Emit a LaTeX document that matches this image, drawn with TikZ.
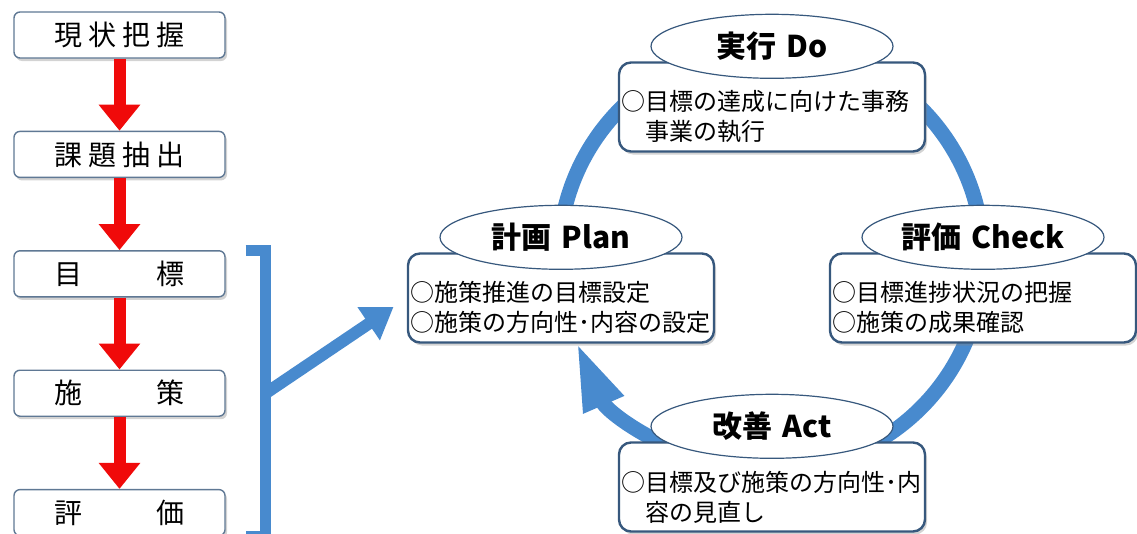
\documentclass[tikz,border=0pt]{standalone}
\usepackage{fontspec}
\setmainfont{Noto Sans CJK JP}
\usetikzlibrary{positioning,arrows.meta,shapes.geometric,shadows}
\definecolor{flowline}{RGB}{95,120,148}
\definecolor{boxline}{RGB}{55,88,125}
\definecolor{cycblue}{RGB}{72,138,206}
\definecolor{arrowred}{RGB}{240,10,10}

\begin{document}
\begin{tikzpicture}[
  x=1pt, y=-1pt,
  font=\fontsize{24pt}{30pt}\selectfont,
  node distance=72pt,
  flowbox/.style={draw=flowline, line width=1.4pt, rounded corners=6pt, fill=white,
                  minimum width=211pt, minimum height=46pt, inner sep=0pt,
                  font=\fontsize{28pt}{30pt}\selectfont,
                  drop shadow={shadow xshift=2pt, shadow yshift=-3pt, opacity=0.35}},
  flowarrow/.style={draw=arrowred, line width=12pt, -{Triangle[width=40pt,length=26pt]}},
  cycbox/.style={draw=boxline, line width=2.4pt, rounded corners=12pt, fill=white,
                 minimum height=89pt, text width=302pt, align=left, inner xsep=2pt, inner ysep=3pt,
                 execute at begin node=\rule{0pt}{40pt},
                 drop shadow={shadow xshift=2pt, shadow yshift=-3pt, opacity=0.35}},
  cyctitle/.style={ellipse, draw=boxline, line width=1.2pt, fill=white,
                   minimum width=242pt, minimum height=64pt, inner sep=0pt,
                   font=\fontsize{30pt}{32pt}\selectfont\bfseries},
  cycline/.style={draw=cycblue, line width=15pt},
  bracket/.style={draw=cycblue, line width=11pt},
  brkarrow/.style={draw=cycblue, line width=12pt, shorten >=16pt,
                   -{Triangle[width=38pt,length=30pt]}}
]
\useasboundingbox (0,0) rectangle (1137,533);

\node[flowbox] (grasp) at (119.5,35) {現\hspace{6pt}状\hspace{6pt}把\hspace{6pt}握};
\node[flowbox, below=of grasp] (issue) {課\hspace{6pt}題\hspace{6pt}抽\hspace{6pt}出};
\node[flowbox, below=of issue] (goal) {目\hspace{74pt}標};
\node[flowbox, below=of goal] (policy) {施\hspace{74pt}策};
\node[flowbox, below=of policy] (eval) {評\hspace{74pt}価};

\draw[flowarrow] (grasp) -- (issue);
\draw[flowarrow] (issue) -- (goal);
\draw[flowarrow] (goal) -- (policy);
\draw[flowarrow] (policy) -- (eval);

\draw[bracket] ([xshift=20pt]goal.north east) -| ([xshift=40pt]eval.south east) -- ([xshift=20pt]eval.south east);
\coordinate (brk) at ([xshift=40pt]policy.east);

\coordinate (cyc) at (771,258);
\draw[cycline, -{Triangle[width=40pt,length=68pt]}] ([shift={(185:212)}]cyc) arc[start angle=185, end angle=516.5, radius=212];

\node[cycbox] (do) at (772,107) {○目標の達成に向けた事務\\　事業の執行};
\node[cycbox] (check) at (983,298) {○目標進捗状況の把握\\○施策の成果確認};
\node[cycbox] (act) at (772,487) {○目標及び施策の方向性･内\\　容の見直し};
\node[cycbox] (plan) at (561,298) {○施策推進の目標設定\\○施策の方向性･内容の設定};

\node[cyctitle] (dotitle) at ([yshift=15pt]do.north) {実行\hspace{10pt}Do};
\node[cyctitle] (checktitle) at ([yshift=15pt]check.north) {評価\hspace{10pt}Check};
\node[cyctitle] (acttitle) at ([yshift=15pt]act.north) {改善\hspace{10pt}Act};
\node[cyctitle] (plantitle) at ([yshift=15pt]plan.north) {計画\hspace{10pt}Plan};

\draw[brkarrow] (brk) -- (plan.west);
\end{tikzpicture}
\end{document}
